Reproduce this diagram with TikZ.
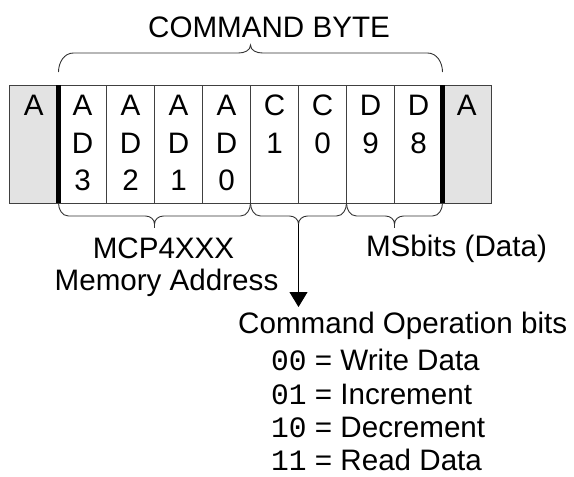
\documentclass[tikz,border=0pt]{standalone}
\usepackage{fontspec}
\setmainfont{Liberation Sans}
\newfontfamily\codefont{Liberation Mono}
\usetikzlibrary{calc,arrows.meta}
\newcommand\lowbrace[3]{%
  \draw[brc] let \p1=(#1.south west), \p2=(#2.south east), \n1={0.5*(\x1+\x2)} in
    (\x1,\y1) to[out=-90,in=180] (\x1+10pt,\y1-13pt) -- (\n1-9pt,\y1-13pt)
    to[out=0,in=90] (\n1,\y1-21pt) coordinate (#3)
    to[out=90,in=180] (\n1+9pt,\y1-13pt) -- (\x2-10pt,\y1-13pt)
    to[out=0,in=-90] (\x2,\y1);}
\begin{document}
\begin{tikzpicture}[x=1pt,y=-1pt,
  cell/.style={draw=black!75,line width=0.9pt,minimum width=48pt,minimum height=118pt,inner sep=0pt,outer sep=0pt,anchor=north west},
  side/.style={cell,fill=black!11},
  lbl/.style={font=\fontsize{29.6}{35}\selectfont,text=black,inner sep=0pt},
  brc/.style={draw=black!80,line width=0.9pt},
  thickbar/.style={line width=4.5pt,draw=black},
  arr/.style={draw=black,line width=0.9pt,-{Triangle[width=18pt,length=15pt]}}]
\useasboundingbox (0,0) rectangle (574,477);
% cells
\node[side,minimum width=49.5pt] (L) at (9,85) {};
\node[cell] (b7) at (58.5,85) {};
\node[cell] (b6) at (106.5,85) {};
\node[cell] (b5) at (154.5,85) {};
\node[cell] (b4) at (202.5,85) {};
\node[cell] (b3) at (250.5,85) {};
\node[cell] (b2) at (298.5,85) {};
\node[cell] (b1) at (346.5,85) {};
\node[cell] (b0) at (394.5,85) {};
\node[side,minimum width=48.5pt] (R) at (442.5,85) {};
\draw[thickbar] (b7.north west) -- (b7.south west);
\draw[thickbar] (b0.north east) -- (b0.south east);
% cell texts
\node[lbl,anchor=base] (L-1) at ([yshift=-30.5pt]L.north) {A};
\node[lbl,anchor=base] (R-1) at ([yshift=-30.5pt]R.north) {A};
\foreach \n/\a/\b in {b7/A/D,b6/A/D,b5/A/D,b4/A/D,b3/C/1,b2/C/0,b1/D/9,b0/D/8}{
  \node[lbl,anchor=base] (\n-1) at ([yshift=-30.5pt]\n.north) {\a};
  \node[lbl,anchor=base] (\n-2) at ([yshift=-68pt]\n.north) {\b};
}
\foreach \n/\c in {b7/3,b6/2,b5/1,b4/0}{
  \node[lbl,anchor=base] (\n-3) at ([yshift=-105pt]\n.north) {\c};
}
% top brace
\draw[brc] let \p1=(b7.north west), \p2=(b0.north east), \n1={0.5*(\x1+\x2)} in
  (\x1,\y1+13pt) to[out=90,in=180] (\x1+15pt,\y1+32pt) -- (\n1-12pt,\y1+32pt)
  to[out=0,in=-90] (\n1,\y1+40pt) to[out=-90,in=180] (\n1+12pt,\y1+32pt)
  -- (\x2-15pt,\y1+32pt) to[out=0,in=90] (\x2,\y1+13pt);
\node[lbl,anchor=base] (title) at (269,37) {COMMAND BYTE};
% bottom braces
\lowbrace{b7}{b4}{addrtip}
\lowbrace{b3}{b2}{cmdtip}
\lowbrace{b1}{b0}{datatip}
\draw[brc] (addrtip) -- ++(0,4);
\draw[brc] (datatip) -- ++(0,4);
\coordinate (arrowend) at ($(cmdtip)+(0,83)$);
\draw[arr] (cmdtip) -- (arrowend);
% labels
\node[lbl,anchor=base] (mcp) at (163.5,258.5) {MCP4XXX};
\node[lbl,anchor=base] (mem) at (166.5,290.5) {Memory Address};
\node[lbl,anchor=base] (msb) at (456.5,256) {MSbits (Data)};
\node[lbl,anchor=base west] (cob) at (238,333) {Command Operation bits};
\node[lbl,anchor=base west] (op0) at (271,370.5) {{\codefont 00} = Write Data};
\node[lbl,anchor=base west] (op1) at (271,404) {{\codefont 01} = Increment};
\node[lbl,anchor=base west] (op2) at (271,437.5) {{\codefont 10} = Decrement};
\node[lbl,anchor=base west] (op3) at (271,470.5) {{\codefont 11} = Read Data};
\end{tikzpicture}
\end{document}
